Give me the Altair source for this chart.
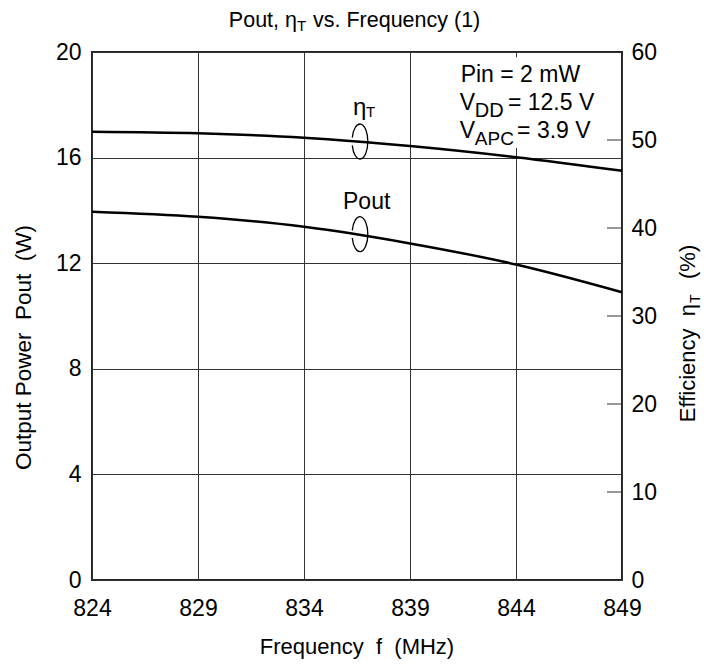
import altair as alt
import pandas as pd

# ---- data ----
freq = [824, 829, 834, 839, 844, 849]
pout = [13.95, 13.76, 13.38, 12.75, 11.95, 10.9]
eta = [50.94, 50.76, 50.26, 49.32, 48.05, 46.5]

x_ticks = [824, 829, 834, 839, 844, 849]
pout_ticks = [0, 4, 8, 12, 16, 20]
eta_ticks = [0, 10, 20, 30, 40, 50, 60]
eta_inner_ticks = [10, 20, 30, 40, 50]

# annotation text pieces placed in data coordinates (Pout scale)
cond_text = ["Pin = 2 mW", "V", "DD", "= 12.5 V", "V", "APC", "= 3.9 V", "Pout"]
cond_x = [841.39, 841.35, 842.06, 843.62, 841.35, 842.06, 844.05, 835.84]
cond_y = [18.87, 17.80, 17.55, 17.80, 16.74, 16.48, 16.74, 14.04]
cond_fs = [23, 23, 20, 23, 23, 19, 23, 23]

# annotation text pieces in eta scale
eta_lab_text = ["η", "T"]
eta_lab_x = [836.31, 836.92]
eta_lab_y = [52.84, 52.6]
eta_lab_fs = [24, 15]

# curl markers (frequency, value)
curl_f = 836.64
curl_pout = 13.1
curl_eta = 49.83

# white background box behind the conditions text
box_x = [840.98]
box_x2 = [847.9]
box_y = [19.8]
box_y2 = [16.36]

FONT = "Liberation Sans"
W, H = 530, 528

df = pd.DataFrame({"freq": freq, "pout": pout, "eta": eta})
xs = alt.Scale(domain=[824, 849], nice=False, zero=False)
ys_p = alt.Scale(domain=[0, 20], nice=False)
ys_e = alt.Scale(domain=[0, 60], nice=False)

x_enc = alt.X("freq:Q", scale=xs,
              axis=alt.Axis(values=x_ticks, format="d", grid=True, gridColor="#333",
                            gridWidth=1, gridOpacity=1, ticks=False, domain=False,
                            labelFontSize=23, labelPadding=17, labelColor="#000",
                            labelFlush=False, labelFont=FONT, title=None))

base = alt.Chart(df)

pout_line = base.mark_line(color="#000", strokeWidth=2.5, interpolate="monotone").encode(
    x=x_enc,
    y=alt.Y("pout:Q", scale=ys_p,
            axis=alt.Axis(orient="left", values=pout_ticks, grid=True, gridColor="#333",
                          gridWidth=1, gridOpacity=1, ticks=False, domain=False,
                          labelFontSize=23, labelPadding=11, labelColor="#000",
                          labelFlush=False, labelFont=FONT, title=None)),
)

box = alt.Chart(pd.DataFrame({"x": box_x, "x2": box_x2, "y": box_y, "y2": box_y2})).mark_rect(
    fill="white").encode(
    x=alt.X("x:Q", scale=xs), x2="x2:Q",
    y=alt.Y("y:Q", scale=ys_p), y2="y2:Q")

cond_df = pd.DataFrame({"x": cond_x, "y": cond_y, "t": cond_text, "fs": cond_fs})
cond = alt.Chart(cond_df).mark_text(align="left", baseline="alphabetic", font=FONT,
                                    color="#000").encode(
    x=alt.X("x:Q", scale=xs), y=alt.Y("y:Q", scale=ys_p), text="t:N",
    size=alt.Size("fs:Q", scale=None, legend=None))

CURL = "M -0.44 -0.22 A 0.45 1 0 1 1 -0.44 0.22"

curl_p = alt.Chart(pd.DataFrame({"x": [curl_f], "y": [curl_pout]})).mark_point(
    shape=CURL, filled=False, stroke="#000", strokeWidth=1.3, size=1225, opacity=1).encode(
    x=alt.X("x:Q", scale=xs), y=alt.Y("y:Q", scale=ys_p))

# titles (outside the plot area, with subscripts)
title_a = alt.Chart(pd.DataFrame({"t": ["Pout, η"]})).mark_text(
    align="right", baseline="alphabetic", font=FONT, fontSize=21.5, color="#000").encode(
    x=alt.value(205), y=alt.value(-25), text="t:N")
title_b = alt.Chart(pd.DataFrame({"t": ["T"]})).mark_text(
    align="left", baseline="alphabetic", font=FONT, fontSize=15, color="#000").encode(
    x=alt.value(205), y=alt.value(-21), text="t:N")
title_c = alt.Chart(pd.DataFrame({"t": ["vs. Frequency (1)"]})).mark_text(
    align="left", baseline="alphabetic", font=FONT, fontSize=21.5, color="#000").encode(
    x=alt.value(221), y=alt.value(-25), text="t:N")

xtitle = alt.Chart(pd.DataFrame({"t": ["Frequency\u00a0\u00a0f\u00a0\u00a0(MHz)"]})).mark_text(
    align="center", baseline="alphabetic", font=FONT, fontSize=22, color="#000").encode(
    x=alt.value(W / 2), y=alt.value(H + 74), text="t:N")

ltitle = alt.Chart(pd.DataFrame({"t": ["Output Power\u00a0\u00a0Pout\u00a0\u00a0(W)"]})).mark_text(
    align="left", baseline="alphabetic", font=FONT, fontSize=22.5, color="#000", angle=270).encode(
    x=alt.value(-61), y=alt.value(418), text="t:N")

r1 = alt.Chart(pd.DataFrame({"t": ["Efficiency\u00a0\u00a0η"]})).mark_text(
    align="right", baseline="alphabetic", font=FONT, fontSize=22, color="#000", angle=270).encode(
    x=alt.value(603), y=alt.value(252), text="t:N")
r2 = alt.Chart(pd.DataFrame({"t": ["T"]})).mark_text(
    align="left", baseline="alphabetic", font=FONT, fontSize=14, color="#000", angle=270).encode(
    x=alt.value(608), y=alt.value(251), text="t:N")
r3 = alt.Chart(pd.DataFrame({"t": ["(%)"]})).mark_text(
    align="left", baseline="alphabetic", font=FONT, fontSize=22, color="#000", angle=270).encode(
    x=alt.value(603), y=alt.value(227), text="t:N")

left = alt.layer(box, pout_line, cond, curl_p, title_a, title_b, title_c, xtitle, ltitle,
                 r1, r2, r3)

eta_line = base.mark_line(color="#000", strokeWidth=2.5, interpolate="monotone").encode(
    x=alt.X("freq:Q", scale=xs),
    y=alt.Y("eta:Q", scale=ys_e,
            axis=alt.Axis(orient="right", values=eta_ticks, grid=False, ticks=False,
                          domain=False, labelFontSize=23, labelPadding=9, labelColor="#000",
                          labelFlush=False, labelFont=FONT, title=None)),
)

eta_rules = alt.Chart(pd.DataFrame({"v": eta_inner_ticks})).mark_rule(
    color="#333", strokeWidth=1).encode(
    y=alt.Y("v:Q", scale=ys_e), x=alt.value(W - 15), x2=alt.value(W))

eta_lab = alt.Chart(pd.DataFrame({"x": eta_lab_x, "y": eta_lab_y, "t": eta_lab_text,
                                  "fs": eta_lab_fs})).mark_text(
    align="left", baseline="alphabetic", font=FONT, color="#000").encode(
    x=alt.X("x:Q", scale=xs), y=alt.Y("y:Q", scale=ys_e), text="t:N",
    size=alt.Size("fs:Q", scale=None, legend=None))

curl_e = alt.Chart(pd.DataFrame({"x": [curl_f], "y": [curl_eta]})).mark_point(
    shape=CURL, filled=False, stroke="#000", strokeWidth=1.3, size=1225, opacity=1).encode(
    x=alt.X("x:Q", scale=xs), y=alt.Y("y:Q", scale=ys_e))

right = alt.layer(eta_rules, eta_line, eta_lab, curl_e)

chart = alt.layer(left, right).resolve_scale(y="independent").properties(
    width=W, height=H,
    autosize=alt.AutoSizeParams(type="none"),
    padding={"left": 84, "top": 44, "right": 82, "bottom": 80},
).configure(font=FONT).configure_view(stroke="#222", strokeWidth=2)

chart.save("out.html", embed_options={"renderer": "svg", "actions": False})
